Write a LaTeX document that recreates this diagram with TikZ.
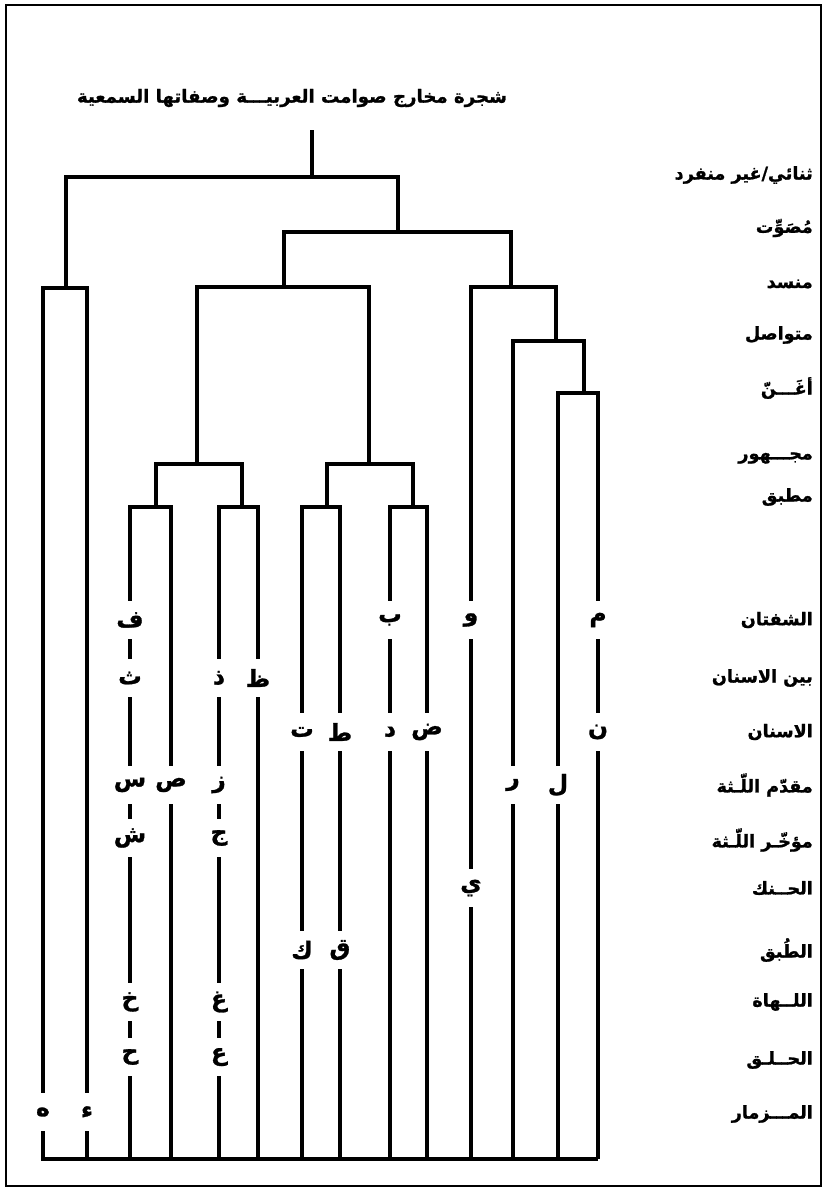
\documentclass[tikz,border=0pt]{standalone}
\usepackage{fontspec}
\usepackage{tikz}
\newfontfamily\arabicfont[Script=Arabic, BoldFeatures={FakeBold=1.2}]{DejaVu Sans}
\TeXXeTstate=1
\newcommand{\arb}[1]{\arabicfont\bfseries\beginR #1\endR}

\begin{document}
\begin{tikzpicture}[x=0.03cm, y=-0.03cm]
\tikzstyle{branch} = [draw, line width=3pt]
\tikzstyle{letter} = [inner sep=1pt, minimum height=1.15cm, minimum width=0.6cm, font=\fontsize{20}{23}\selectfont]
\tikzstyle{rowlabel} = [anchor=east, inner sep=0pt, font=\fontsize{15}{18}\selectfont]

\useasboundingbox (0,0) rectangle (823,1191);
\draw [line width=2.2pt] (6,5) rectangle (821,1186);

\node [font=\fontsize{15.5}{18}\selectfont] (title) at (292,98) {\arb{شجرة مخارج صوامت العربيـــة وصفاتها السمعية}};

\coordinate (stem) at (312,130);
\coordinate (A) at (312,177);
\coordinate (B) at (66,288);
\coordinate (C) at (398,232);
\coordinate (D) at (284,287);
\coordinate (E) at (511,287);
\coordinate (F) at (197,464);
\coordinate (G) at (369,464);
\coordinate (H) at (556,341);
\coordinate (I) at (584,393);
\coordinate (J) at (156,507);
\coordinate (K) at (242,507);
\coordinate (L) at (327,507);
\coordinate (M) at (413,507);

\node [letter] (ha) at (43,1112) {\arb{ه}};
\node [letter] (hamza) at (87,1112) {\arb{ء}};
\node [letter] (fa) at (130,620) {\arb{ف}};
\node [letter] (tha) at (130,678) {\arb{ث}};
\node [letter] (sin) at (130,785) {\arb{س}};
\node [letter] (shin) at (130,838) {\arb{ش}};
\node [letter] (kha) at (130,1002) {\arb{خ}};
\node [letter] (hha) at (130,1057) {\arb{ح}};
\node [letter] (sad) at (171,785) {\arb{ص}};
\node [letter] (dhal) at (219,678) {\arb{ذ}};
\node [letter] (zay) at (219,785) {\arb{ز}};
\node [letter] (jim) at (219,838) {\arb{ج}};
\node [letter] (ghain) at (219,1002) {\arb{غ}};
\node [letter] (ain) at (219,1057) {\arb{ع}};
\node [letter] (zah) at (258,678) {\arb{ظ}};
\node [letter] (ta) at (302,732) {\arb{ت}};
\node [letter] (kaf) at (302,950) {\arb{ك}};
\node [letter] (tah) at (340,732) {\arb{ط}};
\node [letter] (qaf) at (340,950) {\arb{ق}};
\node [letter] (ba) at (390,620) {\arb{ب}};
\node [letter] (dal) at (390,732) {\arb{د}};
\node [letter] (dad) at (427,732) {\arb{ض}};
\node [letter] (waw) at (471,620) {\arb{و}};
\node [letter] (ya) at (471,888) {\arb{ي}};
\node [letter] (ra) at (513,785) {\arb{ر}};
\node [letter] (lam) at (558,785) {\arb{ل}};
\node [letter] (mim) at (598,620) {\arb{م}};
\node [letter] (nun) at (598,732) {\arb{ن}};

\coordinate (z1) at (43,1159);
\coordinate (z2) at (87,1159);
\coordinate (z3) at (130,1159);
\coordinate (z4) at (171,1159);
\coordinate (z5) at (219,1159);
\coordinate (z6) at (258,1159);
\coordinate (z7) at (302,1159);
\coordinate (z8) at (340,1159);
\coordinate (z9) at (390,1159);
\coordinate (z10) at (427,1159);
\coordinate (z11) at (471,1159);
\coordinate (z12) at (513,1159);
\coordinate (z13) at (558,1159);
\coordinate (z14) at (598,1159);

\path [branch] (stem) -- (A);
\path [branch] (B) |- (A) -| (C);
\path [branch] (ha) |- (B) -| (hamza);
\path [branch] (D) |- (C) -| (E);
\path [branch] (F) |- (D) -| (G);
\path [branch] (waw) |- (E) -| (H);
\path [branch] (ra) |- (H) -| (I);
\path [branch] (lam) |- (I) -| (mim);
\path [branch] (J) |- (F) -| (K);
\path [branch] (L) |- (G) -| (M);
\path [branch] (fa) |- (J) -| (sad);
\path [branch] (dhal) |- (K) -| (zah);
\path [branch] (ta) |- (L) -| (tah);
\path [branch] (ba) |- (M) -| (dad);

\path [branch] (fa) -- (tha) -- (sin) -- (shin) -- (kha) -- (hha) -- (z3);
\path [branch] (dhal) -- (zay) -- (jim) -- (ghain) -- (ain) -- (z5);
\path [branch] (ta) -- (kaf) -- (z7);
\path [branch] (tah) -- (qaf) -- (z8);
\path [branch] (ba) -- (dal) -- (z9);
\path [branch] (waw) -- (ya) -- (z11);
\path [branch] (mim) -- (nun) -- (z14);
\path [branch] (ha) -- (z1) -- (z14);
\path [branch] (hamza) -- (z2);
\path [branch] (sad) -- (z4);
\path [branch] (zah) -- (z6);
\path [branch] (dad) -- (z10);
\path [branch] (ra) -- (z12);
\path [branch] (lam) -- (z13);

\node [rowlabel] (r1) at (813,175) {\arb{ثنائي/غير منفرد}};
\node [rowlabel] (r2) at (813,228) {\arb{مُصَوِّت}};
\node [rowlabel] (r3) at (813,284) {\arb{منسد}};
\node [rowlabel] (r4) at (813,335) {\arb{متواصل}};
\node [rowlabel] (r5) at (813,388) {\arb{أغَـــنّ}};
\node [rowlabel] (r6) at (813,458) {\arb{مجـــهور}};
\node [rowlabel] (r7) at (813,497) {\arb{مطبق}};
\node [rowlabel] (r8) at (813,620) {\arb{الشفتان}};
\node [rowlabel] (r9) at (813,678) {\arb{بين الاسنان}};
\node [rowlabel] (r10) at (813,732) {\arb{الاسنان}};
\node [rowlabel] (r11) at (813,785) {\arb{مقدّم اللّـثة}};
\node [rowlabel] (r12) at (813,840) {\arb{مؤخّـر اللّـثة}};
\node [rowlabel] (r13) at (813,888) {\arb{الحــنك}};
\node [rowlabel] (r14) at (813,950) {\arb{الطُبق}};
\node [rowlabel] (r15) at (813,1002) {\arb{اللــهاة}};
\node [rowlabel] (r16) at (813,1060) {\arb{الحــلـق}};
\node [rowlabel] (r17) at (813,1114) {\arb{المـــزمار}};
\end{tikzpicture}
\end{document}
